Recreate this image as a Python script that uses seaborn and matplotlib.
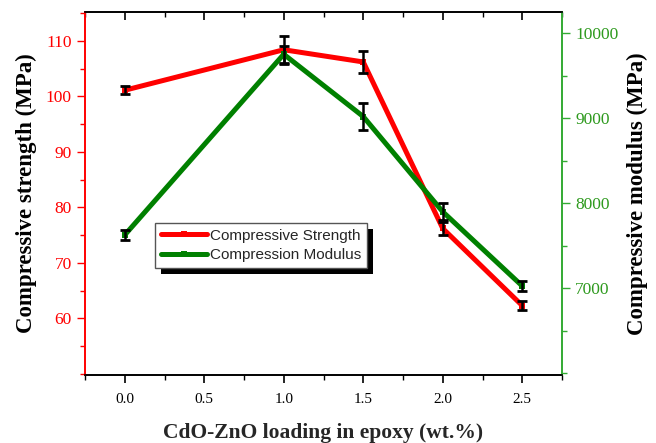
import matplotlib
matplotlib.use("Agg")
import matplotlib.pyplot as plt
from matplotlib.patches import Rectangle
from matplotlib.ticker import MultipleLocator
import seaborn as sns
import numpy as np
import pandas as pd

loading = [0.0, 1.0, 1.5, 2.0, 2.5]
strength = [101.1, 108.4, 106.2, 76.2, 62.3]
strength_err = [0.7, 2.5, 1.9, 1.2, 0.8]
modulus = [7627, 9753, 9020, 7900, 7027]
modulus_err = [60, 100, 160, 100, 60]
x_ticks = [0.0, 0.5, 1.0, 1.5, 2.0, 2.5]
x_tick_labels = ["0.0", "0.5", "1.0", "1.5", "2.0", "2.5"]
left_ticks = [60, 70, 80, 90, 100, 110]
right_ticks = [7000, 8000, 9000, 10000]

sns.set_theme(style="white")
plt.rcParams['font.family'] = ['Liberation Serif', 'DejaVu Serif']

RED = "#ff0000"
GREEN = "#008000"
RSPINE = "#33aa33"
RTICK = "#2e9a1e"

fig = plt.figure(figsize=(6.56, 4.43), dpi=100)
ax = fig.add_axes([85/656, 1-375/443, (562-85)/656, (375-12)/443])
ax2 = ax.twinx()

df = pd.DataFrame({"x": loading, "s": strength, "m": modulus})

sns.lineplot(data=df, x="x", y="s", ax=ax, color=RED, lw=3.6, marker="s",
             markersize=5, markeredgewidth=0, label="Compressive Strength", legend=False, zorder=3)
ax.errorbar(loading, strength, yerr=strength_err, fmt="none", ecolor="black",
            elinewidth=1.8, capsize=3.4, capthick=2.0, zorder=4)

sns.lineplot(data=df, x="x", y="m", ax=ax2, color=GREEN, lw=3.6, marker="s",
             markersize=5, markeredgewidth=0, label="Compression Modulus", legend=False, zorder=3)
ax2.errorbar(loading, modulus, yerr=modulus_err, fmt="none", ecolor="black",
             elinewidth=1.8, capsize=3.4, capthick=2.0, zorder=4)

ax.set_xlim(-0.25, 2.75)
ax.set_ylim(49.8, 115.2)
ax2.set_ylim(5980, 10250)

ax.set_xticks(x_ticks)
ax.set_xticklabels(x_tick_labels)
ax.xaxis.set_minor_locator(MultipleLocator(0.25))
ax.set_yticks(left_ticks)
ax.yaxis.set_minor_locator(MultipleLocator(5))
ax2.set_yticks(right_ticks)
ax2.yaxis.set_minor_locator(MultipleLocator(500))

for a in (ax, ax2):
    for s in a.spines.values():
        s.set_linewidth(1.2)
        s.set_color("black")
ax2.spines["left"].set_color(RED)
ax.spines["left"].set_color(RED)
ax2.spines["right"].set_color(RSPINE)
ax.spines["right"].set_color(RSPINE)

ax.tick_params(axis="x", which="both", bottom=True, top=False, direction="out",
               labelsize=11, colors="black", pad=7)
ax.tick_params(axis="x", which="major", length=6, width=1.2)
ax.tick_params(axis="x", which="minor", length=3.5, width=1.0)
ax.tick_params(axis="y", which="both", left=True, right=False, direction="out",
               colors=RED, labelcolor=RED, labelsize=12.5)
ax.tick_params(axis="y", which="major", length=6, width=1.0)
ax.tick_params(axis="y", which="minor", length=3.5, width=1.0)
ax2.tick_params(axis="y", which="both", right=True, left=False, direction="out",
                colors=RSPINE, labelcolor=RTICK, labelsize=12.5)
ax2.tick_params(axis="y", which="major", length=6, width=1.0)
ax2.tick_params(axis="y", which="minor", length=3.5, width=1.0)

# top ticks pointing inward
secx = ax.secondary_xaxis("top")
secx.set_xticks(x_ticks)
secx.xaxis.set_minor_locator(MultipleLocator(0.25))
secx.tick_params(axis="x", which="both", direction="in", labeltop=False, colors="black")
secx.tick_params(axis="x", which="major", length=6, width=1.2)
secx.tick_params(axis="x", which="minor", length=3.5, width=1.0)
secx.spines["top"].set_visible(False)

ax.set_xlabel("CdO-ZnO loading in epoxy (wt.%)", fontsize=15.5, fontweight="bold", labelpad=12)
ax.set_ylabel("Compressive strength (MPa)", fontsize=16.5, fontweight="bold", labelpad=6, color="black")
ax2.set_ylabel("Compressive modulus (MPa)", fontsize=16.5, fontweight="bold", labelpad=6, color="black")

h1, l1 = ax.get_legend_handles_labels()
h2, l2 = ax2.get_legend_handles_labels()
leg = ax2.legend(h1 + h2, l1 + l2, loc="upper left",
                 bbox_to_anchor=(155/656, 1-223/443), bbox_transform=fig.transFigure,
                 prop={"family": "Liberation Sans", "size": 11},
                 frameon=True, fancybox=False, edgecolor="#555555", framealpha=1,
                 handlelength=3.0, handletextpad=0.2, borderpad=0.38, labelspacing=0.35,
                 borderaxespad=0)
leg.get_frame().set_linewidth(1.0)
leg.set_zorder(10)

fig.canvas.draw()
bb = leg.get_window_extent()
inv = fig.transFigure.inverted()
(x0, y0) = inv.transform((bb.x0 + 6, bb.y0 - 6))
(x1, y1) = inv.transform((bb.x1 + 6, bb.y1 - 6))
shadow = Rectangle((x0, y0), x1 - x0, y1 - y0, transform=fig.transFigure,
                   facecolor="black", edgecolor="none", zorder=9)
ax2.add_artist(shadow)
shadow.set_clip_on(False)

fig.savefig("out.png", dpi=100)
